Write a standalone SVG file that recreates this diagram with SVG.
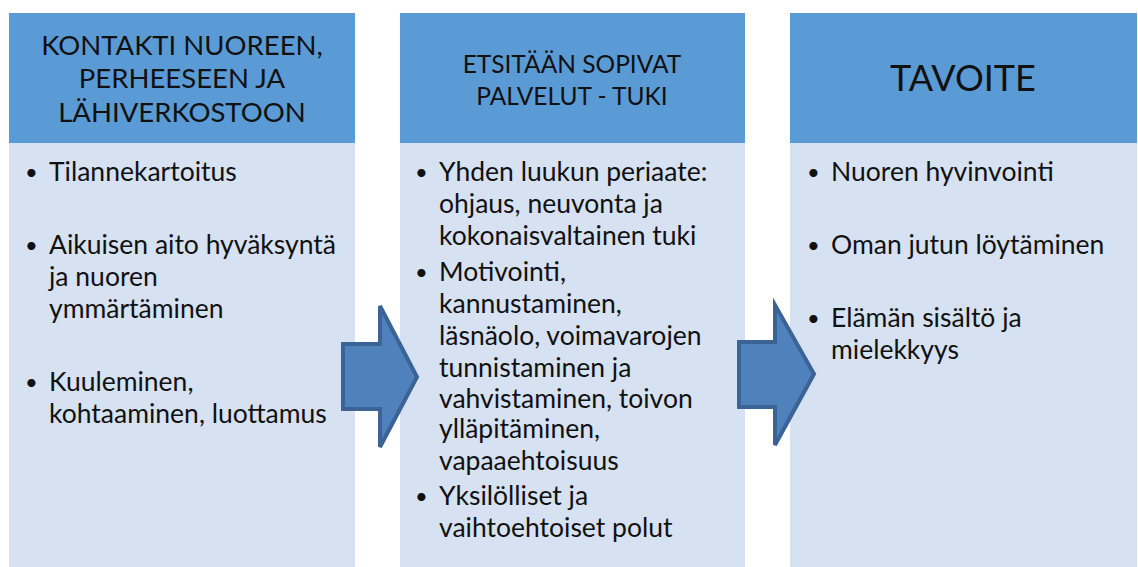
<svg xmlns="http://www.w3.org/2000/svg" width="1138" height="567" viewBox="0 0 1138 567">
<style>
.hd{fill:#5b9bd5}
.bd{fill:#d6e1f1}
.ht{font-family:Lato,"Open Sans",sans-serif;fill:#111;text-anchor:middle}
.tx{font-family:Lato,"Open Sans",sans-serif;font-size:26.5px;fill:#111}
.bl{font-size:22px}
.arrow{fill:#4f81bd;stroke:#3b6396;stroke-width:4;stroke-linejoin:miter}
</style>
<rect width="1138" height="567" fill="#fff"/>
<g id="col1">
<rect class="hd" x="9" y="13" width="346" height="130"/>
<rect class="bd" x="9" y="143" width="346" height="424"/>
<text class="ht" font-size="27.5" x="182"><tspan x="182" y="55">KONTAKTI NUOREEN,</tspan><tspan x="182" y="88">PERHEESEEN JA</tspan><tspan x="182" y="122">LÄHIVERKOSTOON</tspan></text>
<text class="tx"><tspan class="bl" x="25" y="180">•</tspan><tspan x="49" y="181">Tilannekartoitus</tspan>
<tspan class="bl" x="25" y="253">•</tspan><tspan x="49" y="254">Aikuisen aito hyväksyntä</tspan>
<tspan x="49" y="286">ja nuoren</tspan><tspan x="49" y="318">ymmärtäminen</tspan>
<tspan class="bl" x="25" y="390">•</tspan><tspan x="49" y="391">Kuuleminen,</tspan>
<tspan x="49" y="423">kohtaaminen, luottamus</tspan></text>
</g>
<g id="col2">
<rect class="hd" x="400" y="13" width="345" height="130"/>
<rect class="bd" x="400" y="143" width="345" height="424"/>
<text class="ht" font-size="24.5" x="572"><tspan x="572" y="73">ETSITÄÄN SOPIVAT</tspan><tspan x="572" y="105">PALVELUT - TUKI</tspan></text>
<text class="tx"><tspan class="bl" x="415" y="180">•</tspan><tspan x="439" y="181">Yhden luukun periaate:</tspan>
<tspan x="439" y="213">ohjaus, neuvonta ja</tspan><tspan x="439" y="245">kokonaisvaltainen tuki</tspan>
<tspan class="bl" x="415" y="280">•</tspan><tspan x="439" y="281">Motivointi,</tspan>
<tspan x="439" y="313">kannustaminen,</tspan><tspan x="439" y="345">läsnäolo, voimavarojen</tspan>
<tspan x="439" y="377">tunnistaminen ja</tspan><tspan x="439" y="408">vahvistaminen, toivon</tspan>
<tspan x="439" y="438">ylläpitäminen,</tspan><tspan x="439" y="470">vapaaehtoisuus</tspan>
<tspan class="bl" x="415" y="504">•</tspan><tspan x="439" y="505">Yksilölliset ja</tspan>
<tspan x="439" y="537">vaihtoehtoiset polut</tspan></text>
</g>
<g id="col3">
<rect class="hd" x="790" y="13" width="347" height="130"/>
<rect class="bd" x="790" y="143" width="347" height="424"/>
<text class="ht" font-size="36" x="963" y="91">TAVOITE</text>
<text class="tx"><tspan class="bl" x="807" y="180">•</tspan><tspan x="831" y="181">Nuoren hyvinvointi</tspan>
<tspan class="bl" x="807" y="253">•</tspan><tspan x="831" y="254">Oman jutun löytäminen</tspan>
<tspan class="bl" x="807" y="326">•</tspan><tspan x="831" y="327">Elämän sisältö ja</tspan>
<tspan x="831" y="359">mielekkyys</tspan></text>
</g>
<g id="connectors">
<polygon class="arrow" points="343,344 380,344 380,306 417,377 380,447 380,409 343,409"/>
<polygon class="arrow" points="739,342 775,342 775,305 814,374 775,445 775,407 739,407"/>
</g>
</svg>
